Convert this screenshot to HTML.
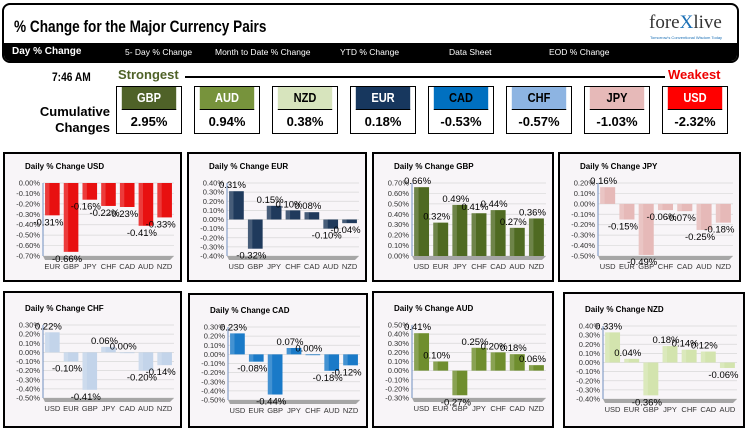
<!DOCTYPE html>
<html><head><meta charset="utf-8">
<style>
body{margin:0;width:750px;height:432px;background:#fff;position:relative;overflow:hidden;font-family:"Liberation Sans",sans-serif}
.abs{position:absolute}
#hdr{left:2px;top:3px;width:733px;height:56px;border:2px solid #000;border-radius:8px;background:#fff;overflow:hidden}
#nav{left:0;bottom:0;width:100%;height:18px;background:#000;color:#fff;font-size:8.5px}
#nav span{position:absolute;top:4px}
.box{position:absolute;width:64px;top:86px;height:46px;border:1px solid #000;background:#fff}
.box .c{height:22px;border-bottom:1px solid #000;font-weight:bold;font-size:13px;text-align:center;line-height:22px;color:#fff;transform:scaleX(.85)}
.box .v{height:23px;font-weight:bold;font-size:13px;text-align:center;line-height:23px}
.panel{position:absolute;border:2px solid #000;background:#f8f5f8}
</style></head><body>
<div id="hdr" class="abs">
 <div class="abs" style="left:10px;top:12px;font-size:17px;font-weight:bold;transform:scaleX(.8);transform-origin:left">% Change for the Major Currency Pairs</div>
 <div class="abs" style="left:645px;top:7px;font-family:'Liberation Serif',serif;font-size:19px;color:#333">fore<span style="color:#1a6fb5">X</span>live</div>
 <div class="abs" style="left:646px;top:30px;font-size:4px;color:#1a6fb5">Tomorrow's Conventional Wisdom Today</div>
 <div id="nav" class="abs">
  <span style="left:8px;font-size:10px;font-weight:bold;top:3px">Day % Change</span>
  <span style="left:121px">5- Day % Change</span>
  <span style="left:211px">Month to Date % Change</span>
  <span style="left:336px">YTD % Change</span>
  <span style="left:445px">Data Sheet</span>
  <span style="left:545px">EOD % Change</span>
 </div>
</div>
<div class="abs" style="left:52px;top:70px;font-size:12px;font-weight:bold;transform:scaleX(.85);transform-origin:left">7:46 AM</div>
<div class="abs" style="left:118px;top:67px;font-size:13px;font-weight:bold;color:#4f6228">Strongest</div>
<div class="abs" style="left:185px;top:76px;width:480px;height:2px;background:#000"></div>
<div class="abs" style="left:668px;top:67px;font-size:13px;font-weight:bold;color:#e00">Weakest</div>
<div class="abs" style="left:34px;top:104px;font-size:13px;font-weight:bold;text-align:right;line-height:16px;width:76px">Cumulative Changes</div>
<div id="boxes"></div>
<div id="panels"></div>
<script>
const rankCur=["GBP","AUD","NZD","EUR","CAD","CHF","JPY","USD"];
const rankVal=["2.95%","0.94%","0.38%","0.18%","-0.53%","-0.57%","-1.03%","-2.32%"];
const curColor={GBP:"#4f6228",AUD:"#77933c",NZD:"#d7e4bd",EUR:"#17375e",CAD:"#0070c0",CHF:"#8db4e2",JPY:"#e6b9b8",USD:"#ff0000"};
const darkText={NZD:1,CHF:1,JPY:1,CAD:1};
const bx=document.getElementById('boxes');
rankCur.forEach((c,i)=>{
 const d=document.createElement('div');d.className='box';d.style.left=(116+i*78)+'px';
 
 
 d.innerHTML='<div class="c" style="background:'+curColor[c]+';color:'+(darkText[c]?'#000':'#fff')+'">'+c+'</div><div class="v">'+rankVal[i]+'</div>';
 bx.appendChild(d);
});

const usdCats=["EUR","GBP","JPY","CHF","CAD","AUD","NZD"], usdVals=[-0.31,-0.66,-0.16,-0.22,-0.23,-0.41,-0.33];
const eurCats=["USD","GBP","JPY","CHF","CAD","AUD","NZD"], eurVals=[0.31,-0.32,0.15,0.10,0.08,-0.10,-0.04];
const gbpCats=["USD","EUR","JPY","CHF","CAD","AUD","NZD"], gbpVals=[0.66,0.32,0.49,0.41,0.44,0.27,0.36];
const jpyCats=["USD","EUR","GBP","CHF","CAD","AUD","NZD"], jpyVals=[0.16,-0.15,-0.49,-0.06,-0.07,-0.25,-0.18];
const chfCats=["USD","EUR","GBP","JPY","CAD","AUD","NZD"], chfVals=[0.22,-0.10,-0.41,0.06,0.00,-0.20,-0.14];
const cadCats=["USD","EUR","GBP","JPY","CHF","AUD","NZD"], cadVals=[0.23,-0.08,-0.44,0.07,0.00,-0.18,-0.12];
const audCats=["USD","EUR","GBP","JPY","CHF","CAD","NZD"], audVals=[0.41,0.10,-0.27,0.25,0.20,0.18,0.06];
const nzdCats=["USD","EUR","GBP","JPY","CHF","CAD","AUD"], nzdVals=[0.33,0.04,-0.36,0.18,0.14,0.12,-0.06];
const axisRanges=[[-0.7,0],[-0.4,0.4],[0,0.7],[-0.5,0.2],[-0.5,0.3],[-0.5,0.3],[-0.3,0.5],[-0.4,0.4]];

const panels=[
 {n:"USD",cats:usdCats,vals:usdVals,x:3,y:152,w:179,h:130},
 {n:"EUR",cats:eurCats,vals:eurVals,x:187,y:152,w:180,h:130},
 {n:"GBP",cats:gbpCats,vals:gbpVals,x:372,y:152,w:182,h:130},
 {n:"JPY",cats:jpyCats,vals:jpyVals,x:558,y:152,w:183,h:130},
 {n:"CHF",cats:chfCats,vals:chfVals,x:3,y:291,w:179,h:137},
 {n:"CAD",cats:cadCats,vals:cadVals,x:188,y:293,w:180,h:135},
 {n:"AUD",cats:audCats,vals:audVals,x:372,y:291,w:182,h:137},
 {n:"NZD",cats:nzdCats,vals:nzdVals,x:563,y:292,w:182,h:136}
];
const barColor={USD:"#e81010",EUR:"#1f3a5c",GBP:"#4f6a22",JPY:"#e6b9b8",CHF:"#c3d4ea",CAD:"#1a7ac8",AUD:"#6f8e2e",NZD:"#d3e4ae"};
const NS="http://www.w3.org/2000/svg";
const host=document.getElementById('panels');
function mk(t,a,p){const e=document.createElementNS(NS,t);for(const k in a)e.setAttribute(k,a[k]);p.appendChild(e);return e;}
panels.forEach((p,pi)=>{
 const div=document.createElement('div');div.className='panel';
 div.style.cssText+=`left:${p.x}px;top:${p.y}px;width:${p.w-4}px;height:${p.h-4}px`;
 
 
 host.appendChild(div);
 const s=mk('svg',{width:p.w-4,height:p.h-4},div);
 const r2=pi>=4?3:0;
 const t=mk('text',{x:20,y:15+r2,'font-size':8,'font-weight':'bold','font-family':'Liberation Sans'},s);t.textContent='Daily % Change '+p.n;
 
 
 const [mn,mx]=axisRanges[pi];
 const top=29+r2,bot=102+r2,L=38,R=p.w-10;
 const Y=v=>top+(mx-v)/(mx-mn)*(bot-top);
 for(let v=mn;v<=mx+1e-9;v+=0.1){
  const y=Y(v);
  mk('line',{x1:L,x2:R,y1:y,y2:y,stroke:'#d8d8d8','stroke-width':0.7},s);
  const tl=mk('text',{x:L-3,y:y+2.5,'font-size':7.5,'text-anchor':'end',fill:'#333','font-family':'Liberation Sans'},s);
  tl.textContent=(Math.abs(v)<1e-9?0:v).toFixed(2)+'%';
  
  
 }
 mk('line',{x1:L,x2:L,y1:top,y2:bot,stroke:'#6f8fbf','stroke-width':1},s);
 mk('polygon',{points:`${L},${bot} ${R},${bot} ${R-4},${bot+4} ${L+2},${bot+4}`,fill:'#a6a6a6'},s);
 const step=(R-L)/p.cats.length,bw=step*0.78;
 p.cats.forEach((c,i)=>{
  const cx=L+step*(i+0.5),v=p.vals[i];
  const y0=Y(0),y1=Y(v);
  const b=mk('rect',{x:cx-bw/2,y:Math.min(y0,y1),width:bw,height:Math.max(Math.abs(y1-y0),0.8),fill:barColor[p.n]},s);
  
  
  mk('rect',{x:cx-bw/2,y:Math.min(y0,y1),width:bw*0.3,height:Math.max(Math.abs(y1-y0),0.8),fill:'#fff',opacity:0.18},s);
  const ly=v>=0?y1-3:y1+10;
  const vl=mk('text',{x:cx-4,y:ly,'font-size':9.5,'text-anchor':'middle',fill:'#000','font-family':'Liberation Sans'},s);
  vl.textContent=v.toFixed(2)+'%';
  
  
  const cl=mk('text',{x:cx,y:bot+13,'font-size':7.5,'text-anchor':'middle',fill:'#333','font-family':'Liberation Sans'},s);
  cl.textContent=c;
  
  
 });
});
</script>
</body></html>
